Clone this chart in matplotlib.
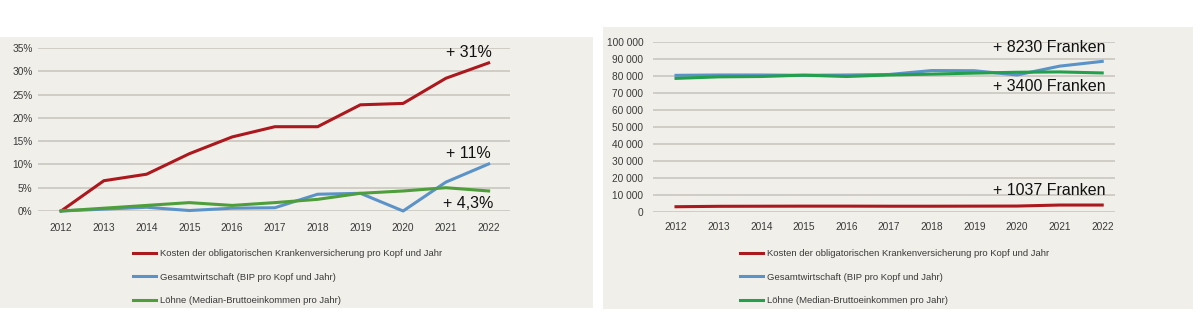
import matplotlib.pyplot as plt
from matplotlib.patches import Rectangle
from matplotlib.ticker import FuncFormatter

years = [2012, 2013, 2014, 2015, 2016, 2017, 2018, 2019, 2020, 2021, 2022]

# left panel: growth since 2012 in %
kosten_pct = [0, 6.5, 7.9, 12.3, 15.9, 18.1, 18.1, 22.8, 23.1, 28.5, 31.8]
bip_pct = [0, 0.4, 0.8, 0.1, 0.6, 0.7, 3.6, 3.8, 0.0, 6.2, 10.1]
loehne_pct = [0, 0.6, 1.2, 1.8, 1.2, 1.8, 2.5, 3.8, 4.3, 5.0, 4.3]

# right panel: francs per year
kosten_chf = [3100, 3350, 3400, 3450, 3450, 3400, 3400, 3450, 3500, 4100, 4100]
bip_chf = [80400, 80600, 80600, 80400, 80600, 80900, 83200, 83100, 80600, 85800, 88600]
loehne_chf = [78600, 79500, 79700, 80500, 79700, 80600, 81100, 81700, 82200, 82400, 81800]

labels = ["Kosten der obligatorischen Krankenversicherung pro Kopf und Jahr",
          "Gesamtwirtschaft (BIP pro Kopf und Jahr)",
          "Löhne (Median-Bruttoeinkommen pro Jahr)"]
left_notes = [("+ 31%", 34.1), ("+ 11%", 12.4), ("+ 4,3%", 1.7)]
right_notes = [("+ 8230 Franken", 97000), ("+ 3400 Franken", 74100), ("+ 1037 Franken", 12900)]

plt.rcParams['font.family'] = ['Liberation Sans', 'DejaVu Sans']

W, H = 1200, 333
fig = plt.figure(figsize=(12, 3.33), dpi=100)
bg = '#f1efe9'
fig.patches.append(Rectangle((0, 1 - 308 / H), 593 / W, 271 / H, transform=fig.transFigure,
                             facecolor=bg, edgecolor='none', zorder=-5))
fig.patches.append(Rectangle((603 / W, 1 - 309 / H), 590 / W, 282 / H, transform=fig.transFigure,
                             facecolor=bg, edgecolor='none', zorder=-5))

red = '#ab181d'
blue = '#5b93c9'
green_l = '#4f9e3c'
green_r = '#22a04c'


def style(ax):
    ax.set_facecolor('none')
    for s in ax.spines.values():
        s.set_visible(False)
    ax.grid(axis='y', color='#c9c7c0', linewidth=1.2)
    ax.set_axisbelow(True)
    ax.tick_params(length=0, labelsize=7.3, colors='#3a3a3a')
    ax.set_xticks(years)


# left
ax1 = fig.add_axes([38 / W, 1 - 211 / H, 472 / W, 163 / H])
ax1.plot(years, kosten_pct, color=red, lw=2.2, clip_on=False, label=labels[0])
ax1.plot(years, bip_pct, color=blue, lw=2.2, clip_on=False, label=labels[1])
ax1.plot(years, loehne_pct, color=green_l, lw=2.2, clip_on=False, label=labels[2])
ax1.set_xlim(2011.46, 2022.5)
ax1.set_ylim(0, 35)
ax1.set_yticks(range(0, 36, 5))
ax1.yaxis.set_major_formatter(FuncFormatter(lambda v, p: f"{v:.0f}%"))
style(ax1)
ax1.tick_params(axis='y', pad=4)
ax1.tick_params(axis='x', pad=8.5)
for txt, y in left_notes:
    ax1.text(2021.53, y, txt, ha='center', va='center', fontsize=11.5, color='#111111')
leg1 = ax1.legend(loc='upper left', bbox_to_anchor=(133 / W, 1 - 249 / H), bbox_transform=fig.transFigure,
                  frameon=False, borderpad=0, borderaxespad=0, handlelength=2.45, handletextpad=0.4,
                  labelspacing=1.55, prop={'size': 6.8})
for t in leg1.get_texts():
    t.set_color('#3a3a3a')

# right
ax2 = fig.add_axes([653 / W, 1 - 212 / H, 462 / W, 170 / H])
ax2.plot(years, kosten_chf, color=red, lw=2.2, clip_on=False, label=labels[0])
ax2.plot(years, bip_chf, color=blue, lw=2.2, clip_on=False, label=labels[1])
ax2.plot(years, loehne_chf, color=green_r, lw=2.2, clip_on=False, label=labels[2])
ax2.set_xlim(2011.46, 2022.3)
ax2.set_ylim(0, 100000)
ax2.set_yticks(range(0, 100001, 10000))
ax2.yaxis.set_major_formatter(FuncFormatter(lambda v, p: f"{v:,.0f}".replace(",", " ")))
style(ax2)
ax2.tick_params(axis='y', pad=7)
ax2.tick_params(axis='x', pad=7.5)
for txt, y in right_notes:
    ax2.text(2020.76, y, txt, ha='center', va='center', fontsize=11.5, color='#111111')
leg2 = ax2.legend(loc='upper left', bbox_to_anchor=(740 / W, 1 - 249 / H), bbox_transform=fig.transFigure,
                  frameon=False, borderpad=0, borderaxespad=0, handlelength=2.45, handletextpad=0.4,
                  labelspacing=1.55, prop={'size': 6.8})
for t in leg2.get_texts():
    t.set_color('#3a3a3a')

fig.savefig('out.png', dpi=100, facecolor='white')
